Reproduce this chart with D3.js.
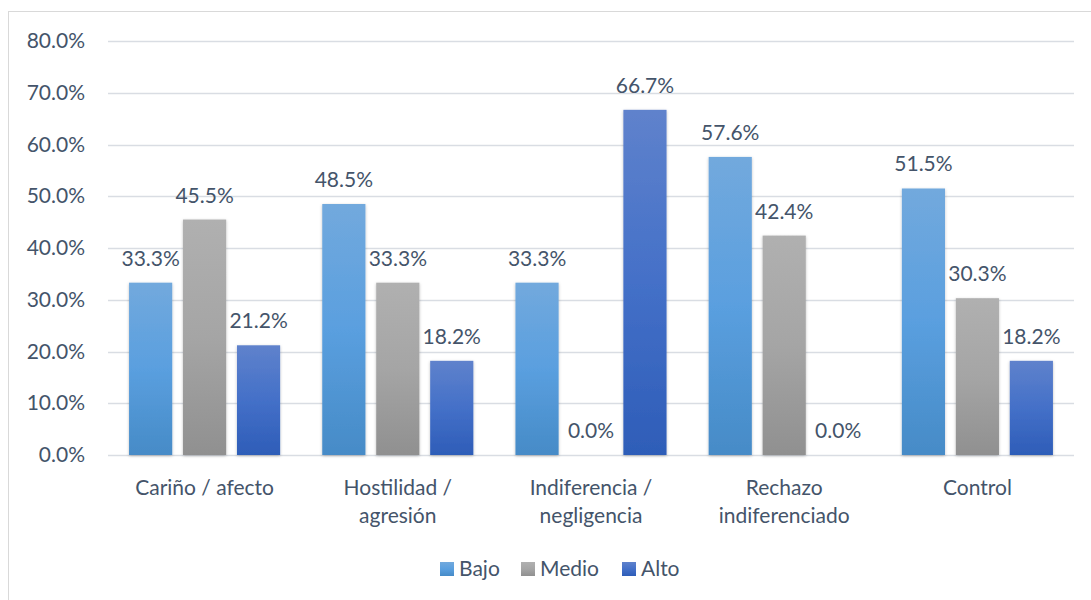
<!DOCTYPE html>
<html>
<head>
<meta charset="utf-8">
<script src="https://cdn.jsdelivr.net/npm/d3@7"></script>
<style>
  body { margin: 0; background: #fff; }
  text { font-family: Lato, "Open Sans", sans-serif; fill: #44546a; }
</style>
</head>
<body>
<svg width="1091" height="600"></svg>
<script>
// data
var categories = [["Cariño / afecto"], ["Hostilidad /", "agresión"], ["Indiferencia /", "negligencia"], ["Rechazo", "indiferenciado"], ["Control"]];
var series = ["Bajo", "Medio", "Alto"];
var bajo  = [33.3, 48.5, 33.3, 57.6, 51.5];
var medio = [45.5, 33.3, 0.0, 42.4, 30.3];
var alto  = [21.2, 18.2, 66.7, 0.0, 18.2];
var yTicks = [0, 10, 20, 30, 40, 50, 60, 70, 80];

var values = [bajo, medio, alto];
var fs = "21px";

var svg = d3.select("svg");

// chart frame
svg.append("rect")
    .attr("x", 8.5).attr("y", 11.5)
    .attr("width", 1100).attr("height", 600)
    .attr("fill", "none")
    .attr("stroke", "#d9d9d9");

// gradients for the bars
var grads = [
  ["#72a9dd", "#5a9fdf", "#468bc7"],
  ["#b0b0b0", "#a5a5a5", "#909090"],
  ["#5f82cc", "#4470c8", "#2e5db8"]
];
var defs = svg.append("defs");
grads.forEach(function(c, i) {
  var g = defs.append("linearGradient").attr("id", "g" + i)
      .attr("x1", 0).attr("y1", 0).attr("x2", 0).attr("y2", 1);
  g.append("stop").attr("offset", "0%").attr("stop-color", c[0]);
  g.append("stop").attr("offset", "50%").attr("stop-color", c[1]);
  g.append("stop").attr("offset", "100%").attr("stop-color", c[2]);
});
var f = defs.append("filter").attr("id", "shadow")
    .attr("x", "-20%").attr("y", "-5%").attr("width", "140%").attr("height", "115%");
f.append("feDropShadow").attr("dx", 0).attr("dy", 1).attr("stdDeviation", 1.5)
    .attr("flood-color", "#000").attr("flood-opacity", 0.25);

var x0 = d3.scaleBand()
    .domain(d3.range(categories.length))
    .range([108, 1074])
    .paddingInner(0.218)
    .paddingOuter(0.109);

var x1 = d3.scaleBand()
    .domain(d3.range(series.length))
    .range([0, x0.bandwidth()])
    .paddingInner(0.2);

var y = d3.scaleLinear().domain([0, 80]).range([455, 41]);

// gridlines
svg.append("g").selectAll("line")
  .data(yTicks)
  .enter().append("line")
    .attr("x1", 108).attr("x2", 1074)
    .attr("y1", function(d) { return Math.round(y(d)) + 0.5; })
    .attr("y2", function(d) { return Math.round(y(d)) + 0.5; })
    .attr("stroke", "#d9dde3")
    .attr("stroke-width", 1.5);

// y axis labels
svg.append("g").selectAll("text")
  .data(yTicks)
  .enter().append("text")
    .attr("x", 85)
    .attr("y", function(d) { return y(d) + 7; })
    .attr("text-anchor", "end")
    .style("font-size", fs)
    .text(function(d) { return d3.format(".1f")(d) + "%"; });

// bars
var groups = svg.append("g").selectAll("g")
  .data(categories)
  .enter().append("g")
    .attr("transform", function(d, i) { return "translate(" + x0(i) + ",0)"; });

groups.selectAll("rect")
  .data(function(d, i) { return series.map(function(s, j) { return { s: j, v: values[j][i] }; }); })
  .enter().append("rect")
    .attr("x", function(d) { return x1(d.s); })
    .attr("width", x1.bandwidth())
    .attr("y", function(d) { return y(d.v); })
    .attr("height", function(d) { return y(0) - y(d.v); })
    .attr("fill", function(d) { return "url(#g" + d.s + ")"; })
    .attr("filter", "url(#shadow)");

groups.selectAll("text.lbl")
  .data(function(d, i) { return series.map(function(s, j) { return { s: j, v: values[j][i] }; }); })
  .enter().append("text")
    .attr("class", "lbl")
    .attr("x", function(d) { return x1(d.s) + x1.bandwidth() / 2; })
    .attr("y", function(d) { return y(d.v) - 17; })
    .attr("text-anchor", "middle")
    .style("font-size", fs)
    .text(function(d) { return d3.format(".1f")(d.v) + "%"; });

// category labels
svg.append("g").selectAll("text")
  .data(categories)
  .enter().append("text")
    .attr("x", function(d, i) { return x0(i) + x0.bandwidth() / 2; })
    .attr("y", 495)
    .attr("text-anchor", "middle")
    .style("font-size", fs)
    .each(function(d) {
      var t = d3.select(this);
      d.forEach(function(line, k) {
        t.append("tspan")
          .attr("x", t.attr("x"))
          .attr("dy", k === 0 ? 0 : 28)
          .text(line);
      });
    });

// legend
var legendX = [440, 521, 622];
var lg = svg.append("g").selectAll("g")
  .data(series)
  .enter().append("g")
    .attr("transform", function(d, i) { return "translate(" + legendX[i] + ",562)"; });
lg.append("rect")
    .attr("width", 14).attr("height", 14)
    .attr("fill", function(d, i) { return "url(#g" + i + ")"; });
lg.append("text")
    .attr("x", 19).attr("y", 14)
    .style("font-size", fs)
    .text(function(d) { return d; });
</script>
</body>
</html>
